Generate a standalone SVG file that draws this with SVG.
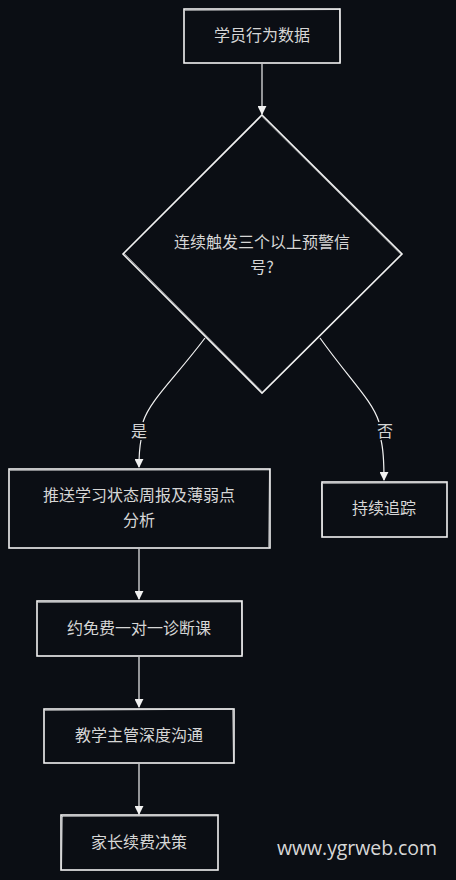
<svg xmlns="http://www.w3.org/2000/svg" width="456" height="880" viewBox="0 0 456 880">
<style>
.bg{fill:#0b0e14}
.box{fill:#0b0e14;stroke:#f2f2f2;stroke-width:1.6}
.sk{fill:none;stroke:#f2f2f2;stroke-width:0.8;opacity:0.7}
.t{font-family:"Noto Sans CJK SC","Noto Sans",sans-serif;font-size:16px;fill:#d6d6d6;text-anchor:middle}
.e{fill:none;stroke:#f2f2f2;stroke-width:1.2}
.wm{font-family:"Open Sans","Noto Sans",sans-serif;font-size:19.5px;fill:#d8d8d8}
</style>
<defs>
<marker id="ah" viewBox="0 0 10 10" refX="9" refY="5" markerWidth="9" markerHeight="9" markerUnits="userSpaceOnUse" orient="auto">
<path d="M0,0 L10,5 L0,10 z" fill="#f2f2f2"/>
</marker>
</defs>
<rect class="bg" x="0" y="0" width="456" height="880"/>
<g id="connectors">
<path class="e" d="M262,64 L262,114" marker-end="url(#ah)"/>
<path class="e" d="M205,338 C175,378 150,400 143,422"/>
<path class="e" d="M141,440 C139,450 139,458 139,467" marker-end="url(#ah)"/>
<path class="e" d="M320,338 C350,380 372,400 379,422"/>
<path class="e" d="M381,440 C384,452 384,466 384,480" marker-end="url(#ah)"/>
<path class="e" d="M139,549 L139,599" marker-end="url(#ah)"/>
<path class="e" d="M139,657 L139,707" marker-end="url(#ah)"/>
<path class="e" d="M139,764 L139,814" marker-end="url(#ah)"/>
<text class="t" x="139" y="437">是</text>
<text class="t" x="385" y="437">否</text>
</g>
<g id="n1">
<rect class="box" x="184" y="9" width="156" height="54"/>
<path class="sk" d="M185,10.5 L339,9.5 M339.5,8.5 L340.5,62.5"/>
<text class="t" x="262" y="41">学员行为数据</text>
</g>
<g id="n2">
<path class="box" d="M262,115 L402,254 L262,393 L123,254 Z"/>
<path class="sk" d="M262,116.5 L401,254.5 M124,253 L262,391.5"/>
<text class="t" x="262" y="248">连续触发三个以上预警信</text>
<text class="t" x="262" y="273">号?</text>
</g>
<g id="n3">
<rect class="box" x="9" y="469" width="261" height="79"/>
<path class="sk" d="M10,470.5 L269,470 M269.5,469 L268.5,547"/>
<text class="t" x="139" y="501">推送学习状态周报及薄弱点</text>
<text class="t" x="139" y="526">分析</text>
</g>
<g id="n4">
<rect class="box" x="322" y="482" width="125" height="55"/>
<path class="sk" d="M323,483.5 L446,483 M321.5,483 L322.5,536"/>
<text class="t" x="384" y="514">持续追踪</text>
</g>
<g id="n5">
<rect class="box" x="37" y="601" width="205" height="55"/>
<path class="sk" d="M38,602.5 L241,602 M241.5,601 L242.5,655"/>
<text class="t" x="139" y="634">约免费一对一诊断课</text>
</g>
<g id="n6">
<rect class="box" x="44" y="709" width="190" height="54"/>
<path class="sk" d="M45,710.5 L233,709 M232.5,710 L233.5,762"/>
<text class="t" x="139" y="741">教学主管深度沟通</text>
</g>
<g id="n7">
<rect class="box" x="61" y="815" width="157" height="55"/>
<path class="sk" d="M62,816.5 L217,816 M62.5,816 L61.5,869"/>
<text class="t" x="139" y="848">家长续费决策</text>
</g>
<text class="wm" x="277" y="855" textLength="160">www.ygrweb.com</text>
</svg>
